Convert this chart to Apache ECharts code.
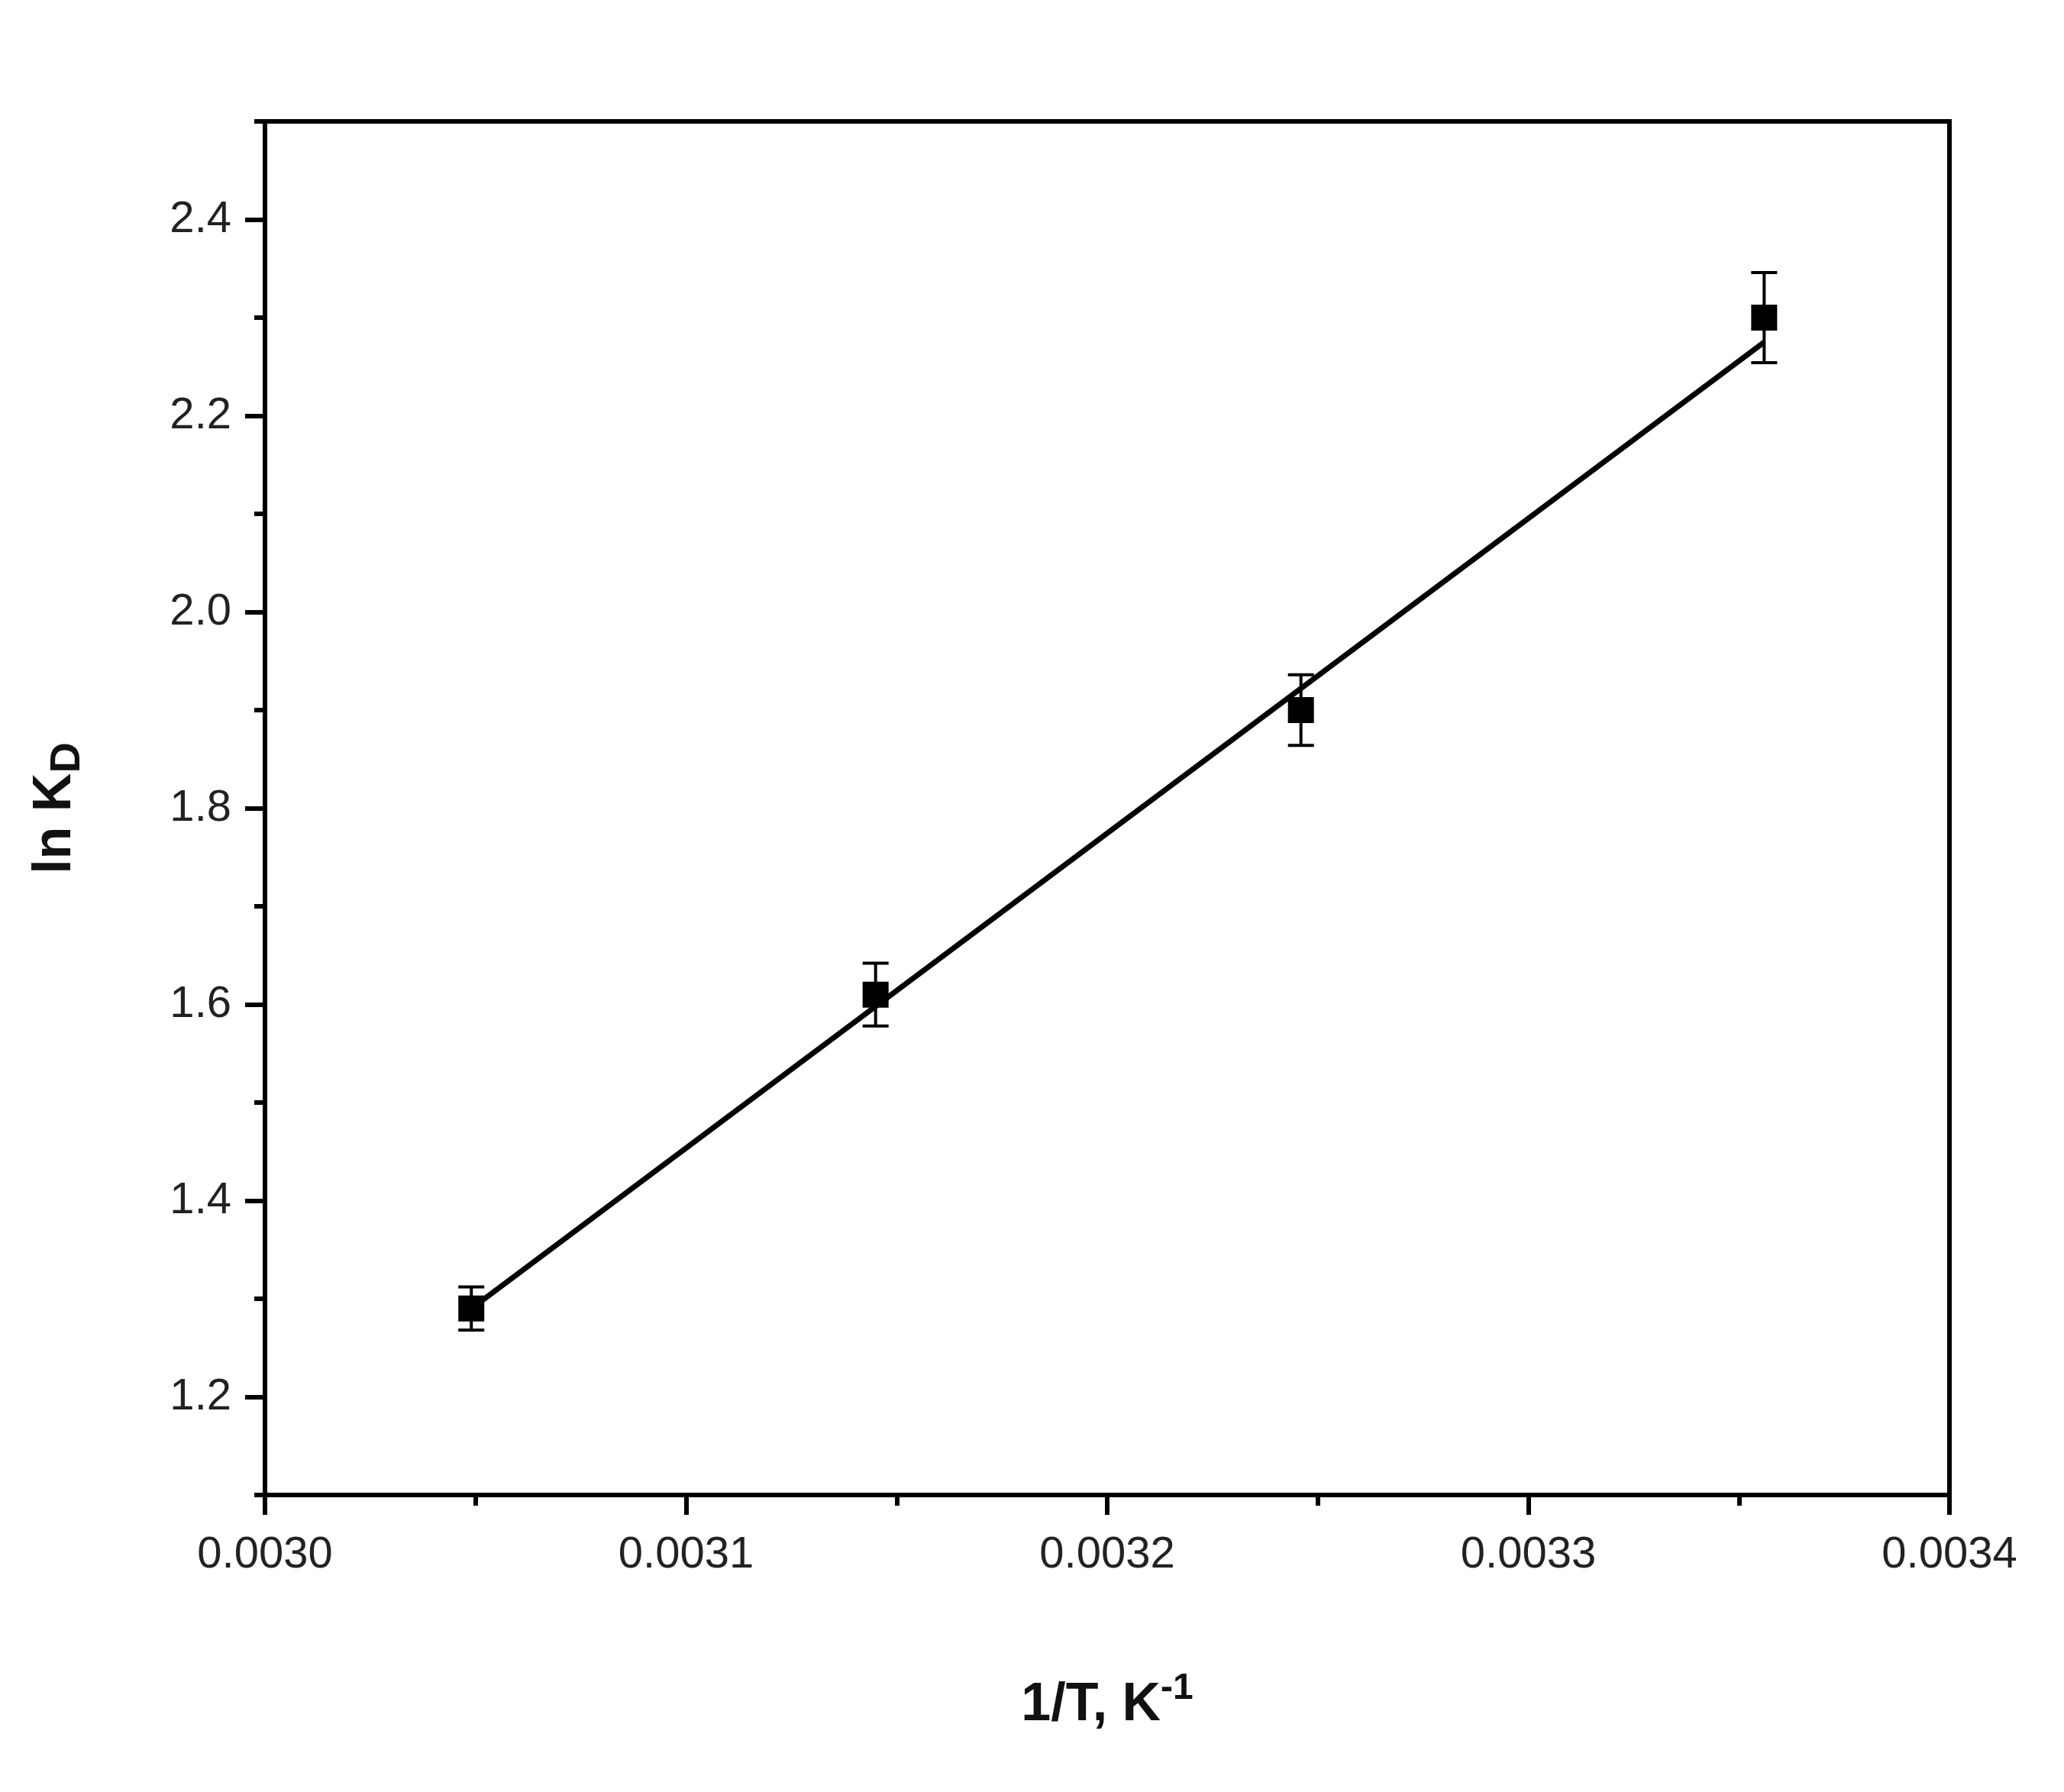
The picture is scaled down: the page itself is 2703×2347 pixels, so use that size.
<!DOCTYPE html>
<html><head><meta charset="utf-8">
<script src="https://cdn.jsdelivr.net/npm/echarts@6/dist/echarts.min.js"></script>
<style>html,body{margin:0;background:#fff}#c{width:2703px;height:2347px}</style>
</head><body><div id="c"></div>
<script>
var xVals = [0.003049, 0.003145, 0.003246, 0.003356];
var yVals = [1.29, 1.61, 1.90, 2.30];
var yErr = [0.022, 0.032, 0.036, 0.046];
var fitX = [0.003049, 0.003356];
var fitY = [1.29, 2.275];
var xMajor = [0.0030, 0.0031, 0.0032, 0.0033, 0.0034];
var xMinor = [0.00305, 0.00315, 0.00325, 0.00335];
var yMajor = [1.2, 1.4, 1.6, 1.8, 2.0, 2.2, 2.4];
var yMinor = [1.1, 1.3, 1.5, 1.7, 1.9, 2.1, 2.3, 2.5];

var chart = echarts.init(document.getElementById('c'));
var font = 'Liberation Sans';
var lineStyle = {color: '#000', width: 6};
function axisBase(extra) {
  return Object.assign({
    splitLine: {show: false},
    axisLine: {show: true, onZero: false, lineStyle: lineStyle}
  }, extra);
}
chart.setOption({
  animation: false,
  grid: {left: 347, right: 150, top: 159, bottom: 389, show: true, borderColor: '#000', borderWidth: 6},
  xAxis: [
    axisBase({type: 'value', min: 0.0030, max: 0.0034,
      name: '1/T, K{sup|-1}', nameLocation: 'middle', nameGap: 230,
      nameTextStyle: {fontFamily: font, fontWeight: 'bold', fontSize: 70, color: '#111',
        rich: {sup: {fontFamily: font, fontWeight: 'bold', fontSize: 48, verticalAlign: 'top', padding: [0, 0, 44, 0]}}},
      axisTick: {show: true, customValues: xMajor, length: 26, lineStyle: lineStyle},
      axisLabel: {customValues: xMajor, margin: 50, fontFamily: font, fontSize: 58, color: '#222',
        formatter: function (v) { return v.toFixed(4); }}}),
    axisBase({type: 'value', min: 0.0030, max: 0.0034, position: 'bottom',
      axisLine: {show: false}, axisLabel: {show: false},
      axisTick: {show: true, customValues: xMinor, length: 14, lineStyle: lineStyle}})
  ],
  yAxis: [
    axisBase({type: 'value', min: 1.1, max: 2.5,
      name: 'ln K{sub|D}', nameLocation: 'middle', nameGap: 230, nameRotate: 90,
      nameTextStyle: {fontFamily: font, fontWeight: 'bold', fontSize: 70, color: '#111',
        rich: {sub: {fontFamily: font, fontWeight: 'bold', fontSize: 56, verticalAlign: 'bottom', padding: [32, 0, 0, 0]}}},
      axisTick: {show: true, customValues: yMajor, length: 26, lineStyle: lineStyle},
      axisLabel: {customValues: yMajor, margin: 44, fontFamily: font, fontSize: 58, color: '#222',
        formatter: function (v) { return v.toFixed(1); }}}),
    axisBase({type: 'value', min: 1.1, max: 2.5, position: 'left',
      axisLine: {show: false}, axisLabel: {show: false},
      axisTick: {show: true, customValues: yMinor, length: 14, lineStyle: lineStyle}})
  ],
  series: [
    {type: 'line', data: fitX.map(function (x, i) { return [x, fitY[i]]; }),
      showSymbol: false, lineStyle: {color: '#000', width: 7}},
    {type: 'scatter', data: xVals.map(function (x, i) { return [x, yVals[i]]; }),
      symbol: 'rect', symbolSize: 34, itemStyle: {color: '#000', opacity: 1}, z: 5},
    {type: 'custom', z: 4,
      data: xVals.map(function (x, i) { return [x, yVals[i] - yErr[i], yVals[i] + yErr[i]]; }),
      renderItem: function (params, api) {
        var lo = api.coord([api.value(0), api.value(1)]);
        var hi = api.coord([api.value(0), api.value(2)]);
        var w = 17, st = {stroke: '#000', lineWidth: 4};
        return {type: 'group', children: [
          {type: 'line', shape: {x1: lo[0], y1: lo[1], x2: hi[0], y2: hi[1]}, style: st},
          {type: 'line', shape: {x1: lo[0] - w, y1: lo[1], x2: lo[0] + w, y2: lo[1]}, style: st},
          {type: 'line', shape: {x1: hi[0] - w, y1: hi[1], x2: hi[0] + w, y2: hi[1]}, style: st}
        ]};
      }}
  ]
});
</script></body></html>
